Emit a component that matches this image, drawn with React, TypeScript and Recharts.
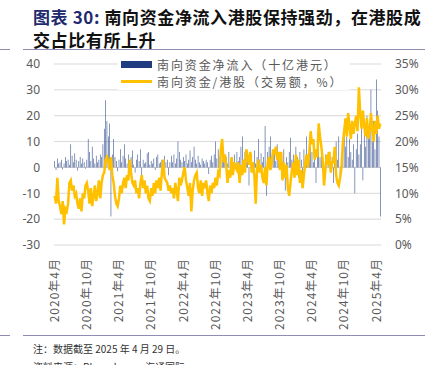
import React from 'react';
import { ComposedChart, Bar, Line, XAxis, YAxis, CartesianGrid } from 'recharts';

// weekly samples, Apr 2020 - Apr 2025, four per month
const years = [2020, 2021, 2022, 2023, 2024, 2025];

// 南向资金净流入（十亿港元）
const netFlow = [
  // 2020 Apr-Dec
  2.5, -1.0, 3.5, 1.5, 2.0, 3.0, -0.8, 1.5, 4.0, 2.5, 3.0, 1.0,
  9.0, 4.5, 2.0, 5.5, 3.0, -1.2, 2.5, 4.0, 1.5, 3.5, 2.0, -0.5,
  3.0, 11.0, 6.0, 2.5, 8.0, 3.5, 1.5, 4.5, 2.0, 3.0, 5.0, 4.0,
  // 2021
  9.0, 15.0, 26.0, 18.0, 12.0, 17.0, -19.0, 5.0, 11.0, 4.0, 2.5, -1.5,
  3.0, 7.0, 2.0, 4.5, 9.0, 3.5, 1.5, 5.0, 2.0, 4.0, 6.5, 1.0,
  -2.0, 3.0, 5.0, 2.5, 7.0, -4.5, 3.0, 1.5, 2.0, 5.5, 6.0, 1.0,
  2.5, 1.5, 3.5, -1.0, 4.0, 5.0, 1.5, 2.0, 3.0, 1.0, 4.5, 2.0,
  // 2022
  3.0, -3.0, 2.0, 4.5, 2.0, 5.0, 1.5, 3.5, 10.0, 6.0, 3.0, 2.0,
  4.0, 2.5, 5.0, 1.5, 3.0, 6.5, 2.0, 4.0, 8.0, 3.0, 1.5, 4.5,
  2.0, 1.0, 3.5, 2.5, 1.5, 3.0, 2.0, -2.5, 3.0, 4.5, 2.0, 5.0,
  10.0, 3.5, 7.0, 4.0, 8.0, 3.0, 5.0, 2.0, 4.0, 1.5, 6.0, 2.5,
  // 2023
  3.0, -2.0, 5.0, 1.0, 6.0, 2.5, 4.0, 8.0, 12.0, 3.0, 6.0, 2.0,
  4.5, -7.0, 3.0, 5.0, 2.0, 6.5, 1.5, 4.0, 11.0, 3.0, 5.5, 2.0,
  4.0, 16.0, -11.0, 6.0, 8.0, 12.0, 3.0, 5.0, 6.0, 2.5, 9.0, 4.0,
  5.0, 3.0, -3.0, 7.0, -9.0, 4.0, 2.0, 6.0, 11.5, 3.0, 5.0, 2.5,
  // 2024
  8.0, 4.0, -4.0, 6.0, 3.0, -5.0, 7.0, 2.0, 12.0, 5.0, 3.0, 9.0,
  6.0, 2.0, 8.0, -6.0, 7.0, 10.0, 4.0, 6.0, 3.0, -4.0, 5.0, 2.0,
  6.0, 3.5, 1.5, 4.0, -6.0, 4.0, 10.0, 3.0, 12.0, -4.0, 5.0, 9.0,
  15.0, 8.0, 12.0, 4.0, 11.0, 6.0, 3.0, 9.0, -10.0, 7.0, 13.0, 5.0,
  // 2025 Jan-Apr
  9.0, 17.0, -5.0, 15.0, 8.0, 20.0, 12.0, 14.0, 30.0, 10.0, 18.0, 7.0,
  34.0, 22.0, 12.0, -19.0,
];

// 南向资金/港股（交易额，%）
const share = [
  // 2020 Apr-Dec
  9.5, 8.0, 13.0, 8.5, 7.5, 6.0, 8.5, 4.0, 7.0, 6.5, 8.0, 12.0,
  12.5, 10.5, 11.5, 9.5, 10.0, 8.0, 7.0, 9.0, 6.5, 10.0, 9.0, 11.5,
  12.0, 10.5, 8.0, 11.0, 7.5, 9.5, 11.5, 8.5, 10.0, 12.5, 9.0, 12.0,
  // 2021
  13.5, 14.0, 16.5, 17.0, 16.0, 14.5, 17.0, 13.5, 12.0, 9.5, 8.0, 7.5,
  9.0, 11.5, 10.0, 12.0, 13.0, 11.0, 13.5, 12.5, 16.5, 14.0, 12.0, 11.5,
  12.5, 10.0, 11.0, 9.0, 12.0, 13.5, 11.0, 12.5, 10.0, 11.5, 9.0, 8.5,
  11.0, 9.5, 12.0, 10.0, 12.5, 11.0, 13.0, 10.5, 14.0, 16.5, 13.0, 12.5,
  // 2022
  12.0, 10.5, 11.5, 10.0, 11.0, 9.0, 12.0, 10.5, 8.5, 13.0, 11.5, 12.5,
  14.0, 15.0, 12.5, 11.0, 9.5, 12.0, 6.5, 10.5, 12.5, 13.5, 14.0, 11.0,
  10.0, 12.5, 9.5, 12.0, 11.0, 12.5, 10.0, 8.5, 11.5, 10.0, 12.0, 11.0,
  13.0, 11.5, 14.0, 13.5, 18.5, 20.5, 16.0, 17.5, 15.5, 12.0, 14.5, 13.0,
  // 2023
  17.0, 13.5, 16.0, 15.0, 14.5, 16.0, 12.0, 15.5, 13.5, 16.5, 14.0, 18.5,
  17.0, 15.5, 18.0, 14.0, 16.0, 13.5, 8.0, 14.5, 16.5, 14.0, 15.5, 13.0,
  12.0, 15.0, 11.5, 16.0, 17.0, 14.5, 16.0, 18.5, 17.5, 19.0, 16.5, 18.0,
  14.5, 18.0, 12.5, 16.0, 13.0, 15.5, 11.0, 9.5, 12.0, 14.5, 16.0, 13.0,
  // 2024
  17.5, 13.5, 16.5, 12.0, 14.5, 11.0, 13.5, 16.0, 17.5, 15.0, 18.0, 22.0,
  19.5, 20.5, 16.5, 18.5, 17.0, 23.5, 21.0, 19.0, 16.5, 11.5, 14.5, 17.5,
  15.5, 18.0, 14.0, 16.0, 16.0, 19.0, 13.5, 12.0, 11.5, 13.0, 15.0, 19.5,
  22.0, 24.5, 21.0, 25.5, 23.0, 20.5, 24.0, 21.5, 23.5, 25.0, 22.0, 30.5,
  // 2025 Jan-Apr
  25.5, 22.5, 26.0, 23.0, 21.0, 24.5, 20.5, 22.0, 25.5, 22.5, 20.0, 24.0,
  21.5, 25.0, 22.5, 23.5,
];

const tickKeys = [
  '2020-4-1', '2020-10-1', '2021-4-1', '2021-10-1', '2022-4-1', '2022-10-1',
  '2023-4-1', '2023-10-1', '2024-4-1', '2024-10-1', '2025-4-1',
];

const leftTicks = [-30, -20, -10, 0, 10, 20, 30, 40];
const rightTicks = [0, 5, 10, 15, 20, 25, 30, 35];

const periods: string[] = [];
years.forEach((y) => {
  const first = y === 2020 ? 4 : 1;
  const last = y === 2025 ? 4 : 12;
  for (let m = first; m <= last; m++) {
    for (let w = 1; w <= 4; w++) periods.push(`${y}-${m}-${w}`);
  }
});

const rows = periods.map((d, i) => ({ d, flow: netFlow[i], share: share[i] }));

const CJK = '"Noto Sans CJK SC", "Noto Sans", sans-serif';
const GREY = '#595959';

const XTick = (props: any) => {
  const { x, y, payload } = props;
  const [yr, mo] = String(payload.value).split('-');
  return (
    <g transform={`translate(${x},${y + 5})`}>
      <text
        transform="rotate(-90)"
        textAnchor="end"
        dy="0.35em"
        fill={GREY}
        fontSize={12}
        letterSpacing={1}
        fontFamily={CJK}
      >
        {`${yr}年${mo}月`}
      </text>
    </g>
  );
};

export default function App() {
  return (
    <div
      style={{
        position: 'relative',
        width: 425,
        height: 365,
        overflow: 'hidden',
        background: '#fff',
        fontFamily: CJK,
      }}
    >
      <style>{'body{margin:0}'}</style>

      <div
        style={{
          position: 'absolute',
          left: 33,
          top: 5,
          fontSize: 17,
          lineHeight: '23px',
          fontWeight: 700,
          letterSpacing: 0.6,
          color: '#111',
          whiteSpace: 'nowrap',
        }}
      >
        <span style={{ color: '#1F2A6E' }}>图表 30:</span> 南向资金净流入港股保持强劲，在港股成
        <br />
        交占比有所上升
      </div>
      <div style={{ position: 'absolute', left: 0, top: 49, width: 10, height: 1, background: '#8C8CB4' }} />
      <div style={{ position: 'absolute', left: 23, top: 49, width: 402, height: 1, background: '#8C8CB4' }} />

      <div style={{ position: 'absolute', left: 0, top: 0 }}>
        <ComposedChart
          width={425}
          height={335}
          data={rows}
          margin={{ top: 64, right: 4, left: 14, bottom: 10 }}
          barCategoryGap="30%"
        >
          <CartesianGrid vertical={false} stroke="#D9D9D9" />
          <XAxis
            dataKey="d"
            ticks={tickKeys}
            interval={0}
            axisLine={false}
            tickLine={false}
            height={80}
            tick={<XTick />}
          />
          <YAxis
            domain={[-30, 40]}
            ticks={leftTicks}
            width={40}
            axisLine={false}
            tickLine={false}
            tickMargin={8}
            tick={{ fill: GREY, fontSize: 12, fontFamily: '"Noto Sans", sans-serif' }}
          />
          <YAxis
            yAxisId="r"
            orientation="right"
            domain={[0, 35]}
            ticks={rightTicks}
            width={40}
            axisLine={false}
            tickLine={false}
            tickMargin={8}
            tickFormatter={(v) => `${v}%`}
            tick={{ fill: GREY, fontSize: 12, fontFamily: '"Noto Sans", sans-serif', textAnchor: 'start' }}
          />
          <Bar dataKey="flow" fill="#1F3C80" isAnimationActive={false} />
          <Line
            yAxisId="r"
            dataKey="share"
            stroke="#FFC000"
            strokeWidth={2.5}
            dot={false}
            type="linear"
            isAnimationActive={false}
          />
        </ComposedChart>
      </div>

      {/* legend */}
      <div
        style={{
          position: 'absolute',
          left: 118,
          top: 56,
          width: 232,
          height: 34,
          background: '#fff',
          color: GREY,
          fontSize: 12,
          letterSpacing: 1.9,
          whiteSpace: 'nowrap',
        }}
      >
        <div style={{ position: 'absolute', left: 3, top: 5, width: 31, height: 7, background: '#1F3C80' }} />
        <div style={{ position: 'absolute', left: 39, top: 0, lineHeight: '17px' }}>南向资金净流入（十亿港元）</div>
        <div style={{ position: 'absolute', left: 3, top: 24, width: 31, height: 3, background: '#FFC000' }} />
        <div style={{ position: 'absolute', left: 39, top: 17, lineHeight: '17px' }}>南向资金/港股（交易额，%）</div>
      </div>

      <div style={{ position: 'absolute', left: 0, top: 335, width: 10, height: 1, background: '#8C8CB4' }} />
      <div style={{ position: 'absolute', left: 23, top: 335, width: 402, height: 1, background: '#8C8CB4' }} />
      <div style={{ position: 'absolute', left: 33, top: 342, fontSize: 10, lineHeight: '14px', color: '#333' }}>
        注：数据截至 2025 年 4 月 29 日。
      </div>
      <div style={{ position: 'absolute', left: 33, top: 360, fontSize: 10, lineHeight: '14px', color: '#333' }}>
        资料来源：Bloomberg，海通国际
      </div>
    </div>
  );
}
